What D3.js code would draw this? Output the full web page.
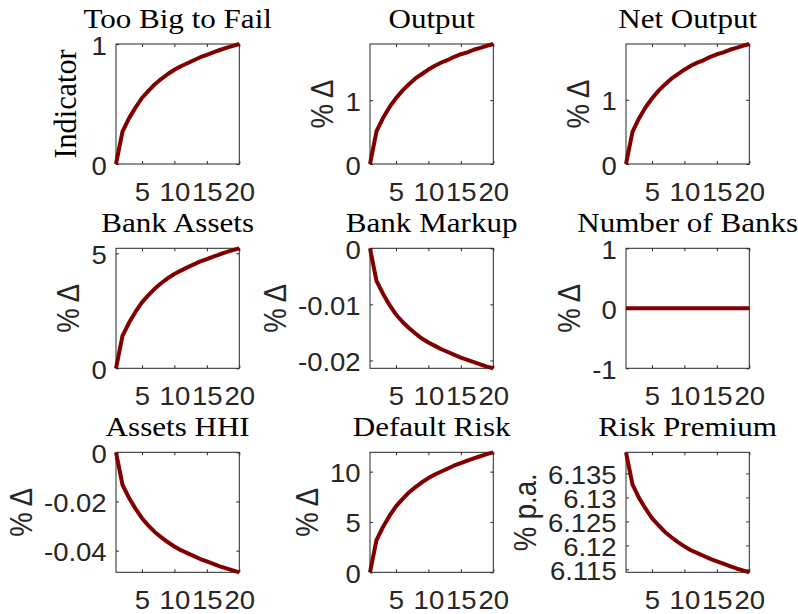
<!DOCTYPE html>
<html>
<head>
<meta charset="utf-8">
<script src="https://cdn.jsdelivr.net/npm/d3@7"></script>
<style>
  html, body { margin: 0; padding: 0; background: #ffffff; }
  svg { display: block; }
</style>
</head>
<body>
<svg id="chart" width="798" height="614"></svg>
<script>
// Horizon (periods after the shock)
const periods = [1, 2, 3, 4, 5, 6, 7, 8, 9, 10, 11, 12, 13, 14, 15, 16, 17, 18, 19, 20];
const periodTicks = [5, 10, 15, 20];

// Impulse responses, one array per panel
const tooBigToFail  = [0, 0.27, 0.38, 0.47, 0.55, 0.61, 0.665, 0.71, 0.75, 0.785, 0.815, 0.84, 0.865, 0.89, 0.91, 0.93, 0.95, 0.967, 0.984, 1.0];
const output        = [0, 0.51, 0.72, 0.89, 1.03, 1.15, 1.25, 1.34, 1.41, 1.48, 1.54, 1.59, 1.63, 1.68, 1.72, 1.75, 1.79, 1.82, 1.85, 1.88];
const netOutput     = [0, 0.50, 0.71, 0.88, 1.02, 1.14, 1.24, 1.33, 1.40, 1.47, 1.53, 1.58, 1.62, 1.67, 1.71, 1.74, 1.78, 1.81, 1.84, 1.87];
const bankAssets    = [0, 1.41, 1.98, 2.45, 2.87, 3.18, 3.47, 3.71, 3.92, 4.10, 4.25, 4.39, 4.52, 4.65, 4.75, 4.86, 4.96, 5.05, 5.14, 5.22];
const bankMarkup    = [0, -0.0058, -0.0081, -0.0101, -0.0118, -0.0131, -0.0142, -0.0152, -0.0161, -0.0168, -0.0174, -0.0180, -0.0185, -0.0190, -0.0195, -0.0199, -0.0203, -0.0207, -0.0211, -0.0214];
const numberOfBanks = [0, 0, 0, 0, 0, 0, 0, 0, 0, 0, 0, 0, 0, 0, 0, 0, 0, 0, 0, 0];
const assetsHHI     = [0, -0.0132, -0.0185, -0.0229, -0.0268, -0.0298, -0.0325, -0.0346, -0.0366, -0.0383, -0.0398, -0.0410, -0.0422, -0.0434, -0.0444, -0.0454, -0.0464, -0.0472, -0.0480, -0.0488];
const defaultRisk   = [0, 3.2, 4.5, 5.6, 6.55, 7.27, 7.93, 8.46, 8.94, 9.36, 9.71, 10.01, 10.31, 10.61, 10.85, 11.09, 11.32, 11.53, 11.73, 11.92];
const riskPremium   = [6.1394, 6.1327, 6.1299, 6.1277, 6.1257, 6.1242, 6.1228, 6.1217, 6.1207, 6.1198, 6.1190, 6.1184, 6.1178, 6.1172, 6.1167, 6.1162, 6.1157, 6.1152, 6.1148, 6.1144];

// Y tick values per panel
const ticksIndicator = [0, 1];
const ticksOutput    = [0, 1];
const ticksNetOutput = [0, 1];
const ticksAssets    = [0, 5];
const ticksMarkup    = [-0.02, -0.01, 0];
const ticksBanks     = [-1, 0, 1];
const ticksHHI       = [-0.04, -0.02, 0];
const ticksDefault   = [0, 5, 10];
const ticksPremium   = [6.115, 6.12, 6.125, 6.13, 6.135];

// Titles and axis labels
const titles  = ["Too Big to Fail", "Output", "Net Output", "Bank Assets", "Bank Markup", "Number of Banks", "Assets HHI", "Default Risk", "Risk Premium"];
const yLabels = ["Indicator", "% \u0394", "% \u0394", "% \u0394", "% \u0394", "% \u0394", "% \u0394", "% \u0394", "% p.a."];
const series  = [tooBigToFail, output, netOutput, bankAssets, bankMarkup, numberOfBanks, assetsHHI, defaultRisk, riskPremium];
const yTicks  = [ticksIndicator, ticksOutput, ticksNetOutput, ticksAssets, ticksMarkup, ticksBanks, ticksHHI, ticksDefault, ticksPremium];

// ---- layout & style ----
const colLeft = [116, 370, 626];
const rowTop  = [44, 248.3, 452.3];
const pw = 123.3, ph = 120;
const axisColor = "#262626";
const lineColor = "#800000";
const sansFont  = "'Liberation Sans', Arial, Helvetica, sans-serif";
const serifFont = "'Liberation Serif', 'Times New Roman', serif";
const tickFontSize    = 25;
const titleFontSize   = 27.5;
const ylabelSansSize  = 27.5;
const ylabelSerifSize = 27.5;
const wide     = 1.13;      // horizontal widening of titles and labels
const tickWide = 1.1;       // horizontal widening of tick labels
const tickLen = 3;

const svg = d3.select("#chart");
svg.append("rect").attr("width", 798).attr("height", 614).attr("fill", "#ffffff");

const fmt = d => String(+d.toFixed(4));

series.forEach((values, i) => {
  const col = i % 3, row = Math.floor(i / 3);
  const g = svg.append("g").attr("transform", `translate(${colLeft[col]},${rowTop[row]})`);

  const x = d3.scaleLinear().domain(d3.extent(periods)).range([0, pw]);
  let [lo, hi] = d3.extent(values);
  if (lo === hi) { lo -= 1; hi += 1; }
  const y = d3.scaleLinear().domain([lo, hi]).range([ph, 0]);

  // bottom axis with labels
  const gx = g.append("g").attr("transform", `translate(0,${ph})`)
    .call(d3.axisBottom(x).tickValues(periodTicks).tickSizeInner(-tickLen).tickSizeOuter(0).tickPadding(19).tickFormat(fmt));
  // top mirrored ticks
  const gxt = g.append("g")
    .call(d3.axisTop(x).tickValues(periodTicks).tickSizeInner(-tickLen).tickSizeOuter(0).tickFormat(""));
  // left axis with labels
  const gy = g.append("g")
    .call(d3.axisLeft(y).tickValues(yTicks[i]).tickSizeInner(-tickLen).tickSizeOuter(0).tickPadding(8.5).tickFormat(fmt));
  // right mirrored ticks
  const gyr = g.append("g").attr("transform", `translate(${pw},0)`)
    .call(d3.axisRight(y).tickValues(yTicks[i]).tickSizeInner(-tickLen).tickSizeOuter(0).tickFormat(""));

  [gx, gxt, gy, gyr].forEach(a => {
    a.select(".domain").remove();
    a.selectAll("line").attr("stroke", axisColor).attr("stroke-width", 1);
    a.selectAll("text").attr("fill", axisColor)
      .style("font-family", sansFont).style("font-size", tickFontSize + "px")
      .attr("transform", `scale(${tickWide},1)`);
  });
  gy.selectAll("text").attr("dy", "0.4em");

  // axes box
  g.append("rect").attr("x", 0).attr("y", 0).attr("width", pw).attr("height", ph)
    .attr("fill", "none").attr("stroke", axisColor).attr("stroke-width", 1);

  // response line
  const line = d3.line().x((d, k) => x(periods[k])).y(d => y(d));
  g.append("path").datum(values).attr("d", line)
    .attr("fill", "none").attr("stroke", lineColor).attr("stroke-width", 4)
    .attr("stroke-linejoin", "round").attr("stroke-linecap", "butt");

  // title
  g.append("text")
    .attr("transform", `translate(${pw / 2},-16) scale(${wide},1)`)
    .attr("text-anchor", "middle")
    .style("font-family", serifFont).style("font-size", titleFontSize + "px").attr("fill", "#000")
    .text(titles[i]);

  // y label, placed left of the tick labels
  const svgLeft = svg.node().getBoundingClientRect().left;
  const tickLeft = d3.min(gy.selectAll("text").nodes(), n => n.getBoundingClientRect().left) - svgLeft - colLeft[col];
  const label = yLabels[i];
  const isSerif = i === 0;
  const base = isSerif ? tickLeft - 15 : tickLeft - 12;
  const yl = g.append("text")
    .attr("transform", `translate(${base},${ph / 2}) scale(${wide},1) rotate(-90)`)
    .attr("text-anchor", "middle")
    .style("font-family", isSerif ? serifFont : sansFont)
    .style("font-size", (isSerif ? ylabelSerifSize : ylabelSansSize) + "px")
    .attr("fill", isSerif ? "#000" : axisColor)
    .text(label);
  if (isSerif) {
    const len = yl.node().getComputedTextLength();
    yl.attr("textLength", len * 1.1).attr("lengthAdjust", "spacingAndGlyphs");
  }
});
</script>
</body>
</html>
